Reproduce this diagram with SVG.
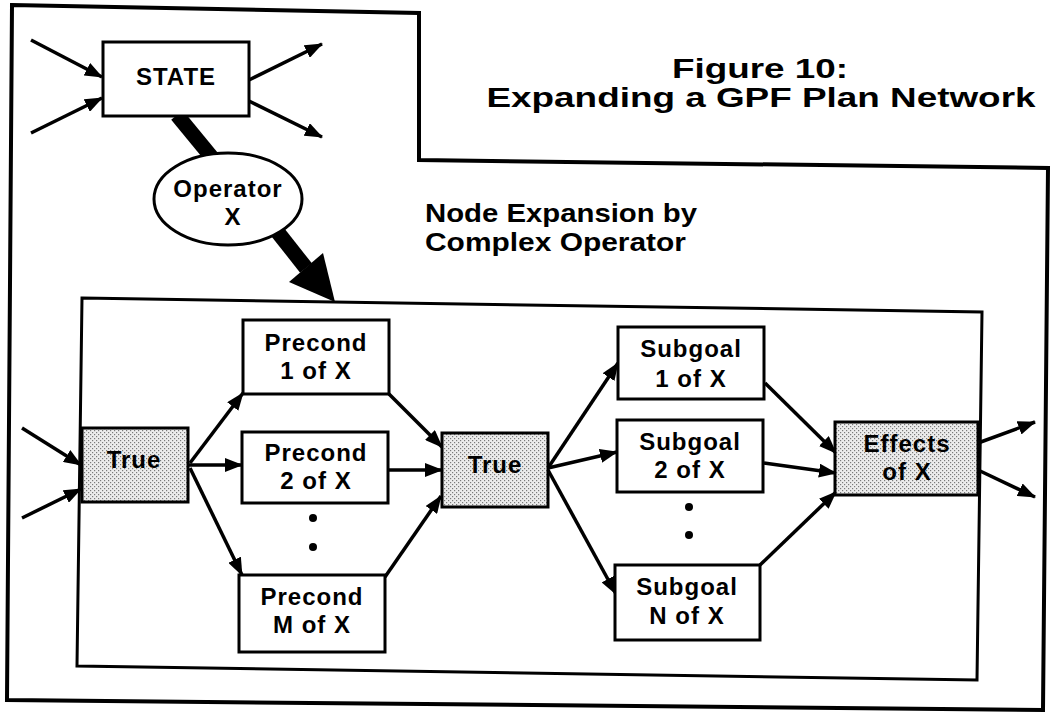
<svg xmlns="http://www.w3.org/2000/svg" width="1052" height="717" viewBox="0 0 1052 717">
  <style>
    .frame { fill: none; stroke: #000; stroke-width: 4; stroke-linejoin: miter; }
    .inner { fill: none; stroke: #000; stroke-width: 3; }
    .box { fill: #fff; stroke: #000; stroke-width: 3; }
    .shade { fill: url(#stipple); stroke: #000; stroke-width: 3; }
    .lbl { font-family: "Liberation Sans", Arial, Helvetica, sans-serif; font-weight: bold; font-size: 24px; fill: #000; text-anchor: middle; letter-spacing: 1px; }
    .title { font-family: "Liberation Sans", Arial, Helvetica, sans-serif; font-weight: bold; font-size: 27px; fill: #000; }
    .caption { font-family: "Liberation Sans", Arial, Helvetica, sans-serif; font-weight: bold; font-size: 25px; fill: #000; }
    .edge { fill: none; stroke: #000; stroke-width: 3.5; marker-end: url(#head); }
    .dot { fill: #000; }
  </style>
  <defs>
    <pattern id="stipple" width="4" height="4" patternUnits="userSpaceOnUse">
      <rect width="4" height="4" fill="#ececec"/>
      <rect x="0" y="0" width="1.2" height="1.2" fill="#7a7a7a"/>
      <rect x="2" y="2" width="1.2" height="1.2" fill="#7a7a7a"/>
    </pattern>
    <marker id="head" viewBox="0 0 18 14" refX="17" refY="7" markerWidth="18" markerHeight="14" markerUnits="userSpaceOnUse" orient="auto">
      <path d="M0,0 L18,7 L0,14 z" fill="#000"/>
    </marker>
  </defs>

  <!-- outer stepped frame -->
  <polygon class="frame" points="12,5 419,13 419,160 1048,168 1043,710 7,700"/>
  <!-- expansion frame -->
  <polygon class="inner" points="82,298 982,312 977,680 77,666"/>

  <!-- title -->
  <text class="title" x="760" y="78" text-anchor="middle" textLength="176" lengthAdjust="spacingAndGlyphs">Figure 10:</text>
  <text class="title" x="761" y="107" text-anchor="middle" textLength="549" lengthAdjust="spacingAndGlyphs">Expanding a GPF Plan Network</text>

  <text class="caption" x="425" y="222" textLength="272" lengthAdjust="spacingAndGlyphs">Node Expansion by</text>
  <text class="caption" x="425" y="251" textLength="261" lengthAdjust="spacingAndGlyphs">Complex Operator</text>

  <!-- thick operator arrow -->
  <g id="operator-arrow">
    <line x1="177" y1="115" x2="214" y2="160" stroke="#000" stroke-width="15"/>
    <line x1="276" y1="230" x2="306" y2="268" stroke="#000" stroke-width="15"/>
    <polygon points="289,282 323,253 335,302" fill="#000"/>
  </g>

  <!-- connectors -->
  <g id="connectors">
    <line class="edge" x1="31" y1="40" x2="102" y2="77"/>
    <line class="edge" x1="31" y1="133" x2="102" y2="98"/>
    <line class="edge" x1="249" y1="80" x2="322" y2="44"/>
    <line class="edge" x1="249" y1="101" x2="322" y2="137"/>

    <line class="edge" x1="22" y1="428" x2="81" y2="465"/>
    <line class="edge" x1="22" y1="518" x2="81" y2="489"/>

    <line class="edge" x1="190" y1="463" x2="243" y2="393"/>
    <line class="edge" x1="188" y1="465" x2="242" y2="465"/>
    <line class="edge" x1="190" y1="468" x2="242" y2="575"/>

    <line class="edge" x1="389" y1="394" x2="442" y2="447"/>
    <line class="edge" x1="388" y1="470" x2="442" y2="470"/>
    <line class="edge" x1="385" y1="577" x2="441" y2="496"/>

    <line class="edge" x1="548" y1="468" x2="618" y2="363"/>
    <line class="edge" x1="548" y1="468" x2="617" y2="452"/>
    <line class="edge" x1="548" y1="470" x2="616" y2="594"/>

    <line class="edge" x1="765" y1="383" x2="836" y2="453"/>
    <line class="edge" x1="764" y1="463" x2="836" y2="473"/>
    <line class="edge" x1="760" y1="565" x2="836" y2="492"/>

    <line class="edge" x1="978" y1="443" x2="1035" y2="422"/>
    <line class="edge" x1="978" y1="470" x2="1035" y2="497"/>
  </g>

  <!-- nodes -->
  <g id="state">
    <rect class="box" x="103" y="42" width="146" height="74"/>
    <text class="lbl" x="176" y="85" font-size="25">STATE</text>
  </g>

  <g id="operator-x">
    <ellipse cx="228" cy="199" rx="74" ry="46" fill="#fff" stroke="#000" stroke-width="3"/>
    <text class="lbl" x="228" y="197">Operator</text>
    <text class="lbl" x="233" y="225">X</text>
  </g>

  <g id="true-in">
    <rect class="shade" x="82" y="428" width="106" height="74"/>
    <text class="lbl" x="134" y="468">True</text>
  </g>

  <g id="precond-1">
    <rect class="box" x="243" y="320" width="146" height="74"/>
    <text class="lbl" x="316" y="351">Precond</text>
    <text class="lbl" x="316" y="379">1 of X</text>
  </g>

  <g id="precond-2">
    <rect class="box" x="242" y="432" width="146" height="71"/>
    <text class="lbl" x="316" y="461">Precond</text>
    <text class="lbl" x="316" y="489">2 of X</text>
  </g>

  <g id="precond-ellipsis">
    <circle class="dot" cx="313" cy="518" r="4"/>
    <circle class="dot" cx="313" cy="547" r="4"/>
  </g>

  <g id="precond-m">
    <rect class="box" x="239" y="575" width="146" height="77"/>
    <text class="lbl" x="312" y="605">Precond</text>
    <text class="lbl" x="312" y="633">M of X</text>
  </g>

  <g id="true-mid">
    <rect class="shade" x="442" y="433" width="106" height="74"/>
    <text class="lbl" x="495" y="473">True</text>
  </g>

  <g id="subgoal-1">
    <rect class="box" x="618" y="327" width="146" height="72"/>
    <text class="lbl" x="691" y="357" letter-spacing="2">Subgoal</text>
    <text class="lbl" x="691" y="387">1 of X</text>
  </g>

  <g id="subgoal-2">
    <rect class="box" x="617" y="420" width="146" height="72"/>
    <text class="lbl" x="690" y="450" letter-spacing="2">Subgoal</text>
    <text class="lbl" x="690" y="478">2 of X</text>
  </g>

  <g id="subgoal-ellipsis">
    <circle class="dot" cx="689" cy="507" r="4"/>
    <circle class="dot" cx="689" cy="535" r="4"/>
  </g>

  <g id="subgoal-n">
    <rect class="box" x="615" y="565" width="145" height="75"/>
    <text class="lbl" x="687" y="595" letter-spacing="2">Subgoal</text>
    <text class="lbl" x="687" y="624">N of X</text>
  </g>

  <g id="effects">
    <rect class="shade" x="835" y="422" width="143" height="73"/>
    <text class="lbl" x="907" y="452">Effects</text>
    <text class="lbl" x="907" y="480">of X</text>
  </g>
</svg>
